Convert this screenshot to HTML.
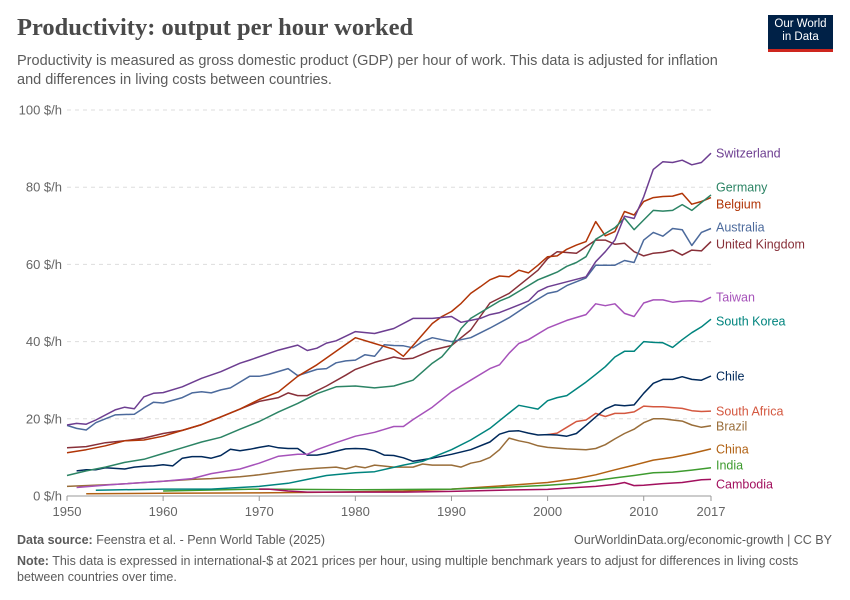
<!DOCTYPE html>
<html><head><meta charset="utf-8">
<style>
body{margin:0;background:#fff;font-family:"Liberation Sans",sans-serif;}
#wrap{position:relative;width:850px;height:600px;overflow:hidden;}
.t{position:absolute;margin:0;}
</style></head><body>
<div id="wrap">
<div class="t" style="left:17px;top:14px;font-family:'Liberation Serif',serif;font-weight:bold;font-size:24.5px;color:#4a4a4a;">Productivity: output per hour worked</div>
<div class="t" style="left:17px;top:52px;width:718px;font-size:14.5px;line-height:19px;color:#5b5b5b;">Productivity is measured as gross domestic product (GDP) per hour of work. This data is adjusted for inflation and differences in living costs between countries.</div>
<div class="t" style="left:768px;top:15px;width:65px;height:37px;background:#002147;border-bottom:3px solid #ce261e;color:#fff;font-size:11.5px;line-height:13px;text-align:center;padding-top:3px;box-sizing:border-box;">Our World<br>in Data</div>
<svg id="chart" width="850" height="600" style="position:absolute;left:0;top:0;"></svg>
<div class="t" style="left:17px;top:533px;font-size:12.5px;color:#5b5b5b;"><b>Data source:</b> Feenstra et al. - Penn World Table (2025)</div>
<div class="t" style="right:18px;top:533px;font-size:12.5px;color:#5b5b5b;">OurWorldinData.org/economic-growth | CC BY</div>
<div class="t" style="left:17px;top:553px;width:815px;font-size:12.5px;line-height:16px;color:#5b5b5b;"><b>Note:</b> This data is expressed in international-$ at 2021 prices per hour, using multiple benchmark years to adjust for differences in living costs between countries over time.</div>
</div>
<script>
const yTicks=[0,20,40,60,80,100];
const xTicks=[1950,1960,1970,1980,1990,2000,2010,2017];
const switzerlandYears=[1950,1951,1952,1953,1955,1956,1957,1958,1959,1960,1962,1964,1966,1968,1969,1972,1974,1975,1976,1977,1978,1980,1982,1984,1986,1988,1990,1991,1992,1993,1994,1995,1996,1997,1998,1999,2000,2002,2004,2005,2006,2007,2008,2009,2010,2011,2012,2013,2014,2015,2016,2017];
const switzerlandValues=[18.4,18.8,18.6,19.7,22.3,23,22.6,25.7,26.6,26.8,28.3,30.5,32.2,34.4,35.2,37.8,39.1,37.7,38.3,39.6,40.2,42.6,42.1,43.4,46,46,46.5,45,45.5,46,47,47.5,48.5,49.5,50.5,53,54.2,55.5,56.8,60.7,63.3,66.3,72.5,71.9,77.5,84.6,86.6,86.4,87,85.8,86.4,88.8];
const germanyYears=[1950,1952,1954,1956,1958,1960,1962,1964,1966,1968,1970,1972,1974,1976,1978,1980,1982,1984,1986,1988,1989,1990,1991,1992,1993,1994,1995,1996,1997,1998,1999,2000,2001,2002,2003,2004,2005,2006,2007,2008,2009,2010,2011,2012,2013,2014,2015,2016,2017];
const germanyValues=[5.3,6.5,7.5,8.7,9.5,11,12.5,14,15.2,17.3,19.3,21.8,24,26.5,28.3,28.5,28,28.5,30,34.4,36.1,39,43.4,46,47.5,49,50.5,51.5,53,54.5,56,57,58,59.5,60.5,62,66.5,68,69.5,72,69,71.5,74,73.8,74,75.5,74,76,78];
const belgiumYears=[1950,1952,1954,1956,1958,1960,1962,1964,1966,1968,1970,1972,1974,1976,1978,1980,1982,1984,1985,1986,1988,1989,1990,1991,1992,1993,1994,1995,1996,1997,1998,1999,2000,2001,2002,2003,2004,2005,2006,2007,2008,2009,2010,2011,2012,2013,2014,2015,2016,2017];
const belgiumValues=[11.2,12,13,14.3,14.5,15.5,17,18.5,20.5,22.5,25,27,31,34,37.5,41,39.5,38,36.2,39,44.7,46.5,47.8,49.9,52.5,54.2,56,57,56.8,58.5,57.8,59.8,62,62.2,63.9,65,65.9,71.1,67.4,68.5,73.7,72.8,76.3,77.3,77.6,77.7,78.4,75.6,76.3,77.3];
const australiaYears=[1950,1951,1952,1953,1954,1955,1957,1958,1959,1960,1962,1963,1964,1965,1966,1967,1969,1970,1971,1973,1974,1976,1977,1978,1979,1980,1981,1982,1983,1984,1985,1986,1987,1988,1989,1990,1992,1994,1996,1998,2000,2001,2002,2004,2005,2006,2007,2008,2009,2010,2011,2012,2013,2014,2015,2016,2017];
const australiaValues=[18.3,17.5,17.1,19,20,21,21.2,22.8,24.3,24.1,25.5,26.7,27,26.7,27.5,28,31,31,31.5,33,31.2,32.8,33,34.5,35,35.2,36.6,36.2,39.2,39,38.9,38.4,40,41,40.5,40,41,43.5,46.2,49.5,52.5,53,54.5,56.5,59.8,59.8,59.8,61,60.5,66.3,68.3,67.3,69.3,69,64.9,68.3,69.3];
const ukYears=[1950,1952,1954,1956,1958,1960,1962,1964,1966,1968,1970,1972,1973,1974,1975,1977,1979,1980,1982,1984,1985,1986,1988,1990,1991,1992,1994,1996,1998,1999,2000,2001,2003,2005,2006,2007,2008,2009,2010,2011,2012,2013,2014,2015,2016,2017];
const ukValues=[12.5,12.8,13.8,14.3,15,16.2,17,18.5,20.5,22.5,24.5,25.5,26.7,26,26,28.5,31.3,32.8,34.6,36,35.5,35.7,37.8,39,41,43,50,52.5,56.5,58.5,61.5,63.3,62.9,66.3,66.3,65.2,65.5,63.3,62.2,62.9,63.1,63.7,62.4,63.7,63.5,65.9];
const taiwanYears=[1951,1955,1960,1963,1965,1968,1970,1972,1974,1975,1976,1978,1980,1982,1984,1985,1986,1988,1990,1992,1994,1995,1996,1997,1998,2000,2002,2004,2005,2006,2007,2008,2009,2010,2011,2012,2013,2014,2015,2016,2017];
const taiwanValues=[2.2,3,3.8,4.5,5.8,7,8.5,10.3,10.8,10.8,12,13.8,15.5,16.5,18,18,19.8,23,27,30,33,34,37,39.5,40.5,43.5,45.5,47,49.8,49.3,49.8,47.3,46.5,50,50.8,50.8,50.2,50.5,50.6,50.3,51.5];
const koreaYears=[1953,1960,1965,1970,1973,1975,1977,1980,1982,1985,1987,1990,1992,1994,1995,1996,1997,1998,1999,2000,2001,2002,2004,2005,2006,2007,2008,2009,2010,2011,2012,2013,2014,2015,2016,2017];
const koreaValues=[1.5,1.8,1.8,2.5,3.3,4.3,5.3,6,6.3,8,9,12,14.5,17.5,19.5,21.5,23.5,23,22.5,24.7,25.5,26,29.5,31.5,33.5,36,37.5,37.5,40,39.8,39.7,38.5,40.5,42.3,43.8,45.8];
const chileYears=[1951,1952,1953,1954,1956,1957,1958,1959,1960,1961,1962,1963,1964,1965,1966,1967,1968,1969,1970,1971,1972,1973,1974,1975,1976,1977,1979,1980,1981,1982,1983,1984,1985,1986,1988,1990,1992,1994,1995,1996,1997,1998,1999,2000,2001,2002,2003,2004,2005,2006,2007,2008,2009,2010,2011,2012,2013,2014,2015,2016,2017];
const chileValues=[6.5,6.8,6.8,7.3,7,7.5,7.7,7.8,8.1,7.8,9.8,10.2,10.2,9.8,10.5,12.1,11.7,12.1,12.6,13,12.5,12.3,12.3,10.6,10.6,11,12.2,12.3,12.2,11.7,10.6,10.5,9.9,9,9.8,10.8,12,14,16,16.8,16.9,16.3,15.8,15.9,15.8,15.5,16.2,18.3,20.5,22.5,23.6,23.4,23.6,26.6,29.2,30.2,30.2,30.9,30.2,30,31.1];
const southAfricaYears=[2000,2001,2002,2003,2004,2005,2006,2007,2008,2009,2010,2011,2012,2013,2014,2015,2016,2017];
const southAfricaValues=[15.9,16.3,17.8,19.3,19.7,21.4,20.6,21.4,21.4,21.8,23.3,23.1,23.1,22.9,22.7,22.1,21.9,22];
const brazilYears=[1950,1955,1960,1963,1965,1968,1970,1972,1974,1976,1978,1979,1980,1981,1982,1984,1986,1987,1988,1990,1991,1992,1993,1994,1995,1996,1997,1998,1999,2000,2002,2004,2005,2006,2007,2008,2009,2010,2011,2012,2013,2014,2015,2016,2017];
const brazilValues=[2.5,3,3.8,4.3,4.5,5,5.5,6.2,6.8,7.2,7.5,7,7.7,7.3,8,7.5,7.5,8.3,8,8,7.5,8.5,9,10,12,15,14.3,13.8,13,12.6,12.2,12,12.3,13.3,14.8,16.2,17.3,19,20,20,19.7,19.4,18.4,17.8,18.2];
const chinaYears=[1952,1960,1970,1978,1985,1990,1995,2000,2003,2005,2007,2009,2011,2013,2015,2017];
const chinaValues=[0.6,0.7,0.8,1,1.3,1.8,2.6,3.5,4.5,5.5,6.8,8,9.3,10,11,12.2];
const indiaYears=[1960,1970,1980,1990,1995,2000,2003,2005,2007,2009,2011,2013,2015,2017];
const indiaValues=[1.3,1.8,1.6,1.8,2.2,2.8,3.3,4,4.7,5.3,6,6.2,6.7,7.3];
const cambodiaYears=[1970,1971,1973,1975,1980,1985,1990,1995,2000,2003,2005,2007,2008,2009,2010,2012,2014,2016,2017];
const cambodiaValues=[1.8,1.8,1.3,1,1,1,1.2,1.5,1.7,2.2,2.5,3,3.5,2.7,2.8,3.2,3.5,4.2,4.3];

const series=[
 ["China",chinaYears,chinaValues,"#b16214",449],
 ["India",indiaYears,indiaValues,"#3e9b2f",465],
 ["Cambodia",cambodiaYears,cambodiaValues,"#a2105e",484],
 ["Brazil",brazilYears,brazilValues,"#996d39",426],
 ["South Africa",southAfricaYears,southAfricaValues,"#d4573f",411],
 ["Chile",chileYears,chileValues,"#00295b",376],
 ["South Korea",koreaYears,koreaValues,"#00847e",321],
 ["Taiwan",taiwanYears,taiwanValues,"#a652ba",297],
 ["United Kingdom",ukYears,ukValues,"#883039",244],
 ["Australia",australiaYears,australiaValues,"#4c6a9c",227],
 ["Belgium",belgiumYears,belgiumValues,"#b13507",204],
 ["Germany",germanyYears,germanyValues,"#2c8465",187],
 ["Switzerland",switzerlandYears,switzerlandValues,"#6d3e91",153]
];
const X0=67,X1=711,Y0=496,Y1=110;
function xs(y){return X0+(y-1950)/(2017-1950)*(X1-X0);}
function ys(v){return Y0-v/100*(Y0-Y1);}
const svg=document.getElementById('chart');
const NS='http://www.w3.org/2000/svg';
function mk(t,a){const e=document.createElementNS(NS,t);for(const k in a)e.setAttribute(k,a[k]);svg.appendChild(e);return e;}
yTicks.forEach(v=>{
 if(v>0){const g=mk('line',{x1:X0,x2:X1,y1:ys(v),y2:ys(v),stroke:'#ddd','stroke-dasharray':'4,4'});
 
 }
 const t=mk('text',{x:62,y:ys(v)+4.5,'text-anchor':'end','font-size':'13','fill':'#666','font-family':'Liberation Sans'});
 t.textContent=v+' $/h';
 
 
});
const ax=mk('line',{x1:X0,x2:X1,y1:Y0,y2:Y0,stroke:'#999'});


xTicks.forEach(y=>{
 const tk=mk('line',{x1:xs(y),x2:xs(y),y1:Y0,y2:Y0+5,stroke:'#999'});
 
 
 const t=mk('text',{x:xs(y),y:516,'text-anchor':'middle','font-size':'13','fill':'#666','font-family':'Liberation Sans'});
 t.textContent=y;
 
 
});
series.forEach(s=>{
 const pts=s[1].map((y,i)=>xs(y).toFixed(1)+','+ys(s[2][i]).toFixed(1)).join(' ');
 const p=mk('polyline',{points:pts,fill:'none',stroke:s[3],'stroke-width':'1.5','stroke-linejoin':'round'});
 
 
 const t=mk('text',{x:716,y:s[4]+4.5,'font-size':'12.5','fill':s[3],'font-family':'Liberation Sans'});
 t.textContent=s[0];
 
 
});
</script>
</body></html>
